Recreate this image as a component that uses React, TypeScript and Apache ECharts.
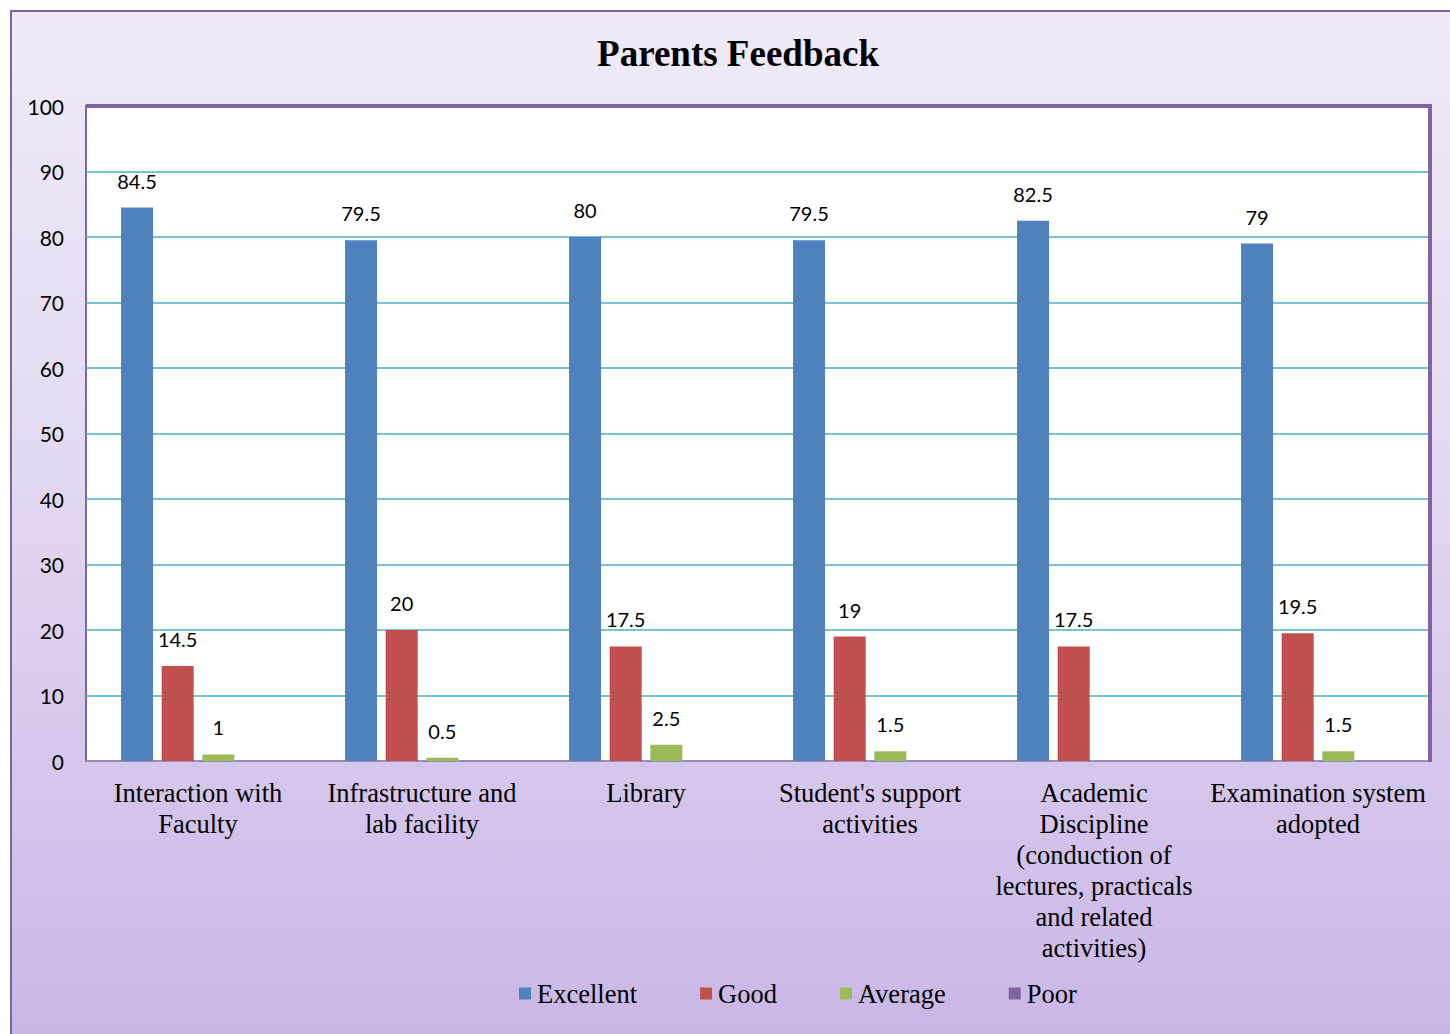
import React, { useEffect, useRef } from "react";
import * as echarts from "echarts";

const categories = [
  "Interaction with\nFaculty",
  "Infrastructure and\nlab facility",
  "Library",
  "Student's support\nactivities",
  "Academic\nDiscipline\n(conduction of\nlectures, practicals\nand related\nactivities)",
  "Examination system\nadopted",
];
const excellent = [84.5, 79.5, 80, 79.5, 82.5, 79];
const good = [14.5, 20, 17.5, 19, 17.5, 19.5];
const average: (number | null)[] = [1, 0.5, 2.5, 1.5, null, 1.5];
const poor: (number | null)[] = [null, null, null, null, null, null];
const seriesNames = ["Excellent", "Good", "Average", "Poor"];
const colors = ["#4F81BD", "#C0504D", "#9BBB59", "#8064A2"];

export default function App() {
  const ref = useRef<HTMLDivElement>(null);
  useEffect(() => {
    const chart = echarts.init(ref.current!, null, { renderer: "svg" });
    const label = {
      show: true,
      position: "top",
      distance: 17,
      color: "#000",
      fontFamily: "Lato",
      fontSize: 20,
    };
    const data = [excellent, good, average, poor];
    chart.setOption({
      animation: false,
      title: {
        text: "Parents Feedback",
        left: 733,
        top: 30,
        textAlign: "center",
        textStyle: {
          fontFamily: "Liberation Serif",
          fontWeight: "bold",
          fontSize: 37,
          color: "#000",
        },
      },
      legend: {
        left: 514,
        top: 975,
        itemWidth: 12,
        itemHeight: 12,
        itemGap: 63,
        icon: "rect",
        textStyle: {
          fontFamily: "Liberation Serif",
          fontSize: 26.5,
          color: "#000",
          padding: [0, 0, 0, 1],
        },
        data: seriesNames,
      },
      grid: {
        left: 86,
        top: 106,
        right: 20,
        bottom: 273,
        show: true,
        backgroundColor: "#fff",
        borderColor: "#8064A2",
        borderWidth: 2,
      },
      xAxis: {
        type: "category",
        data: categories,
        axisTick: { show: false },
        axisLine: { show: true, lineStyle: { color: "#9d8bb5", width: 2 } },
        axisLabel: {
          interval: 0,
          margin: 16,
          color: "#000",
          fontFamily: "Liberation Serif",
          fontSize: 26.5,
          lineHeight: 31,
        },
      },
      yAxis: {
        type: "value",
        min: 0,
        max: 100,
        interval: 10,
        axisLine: { show: false },
        axisTick: { show: false },
        axisLabel: {
          margin: 22,
          color: "#000",
          fontFamily: "Lato",
          fontSize: 21,
        },
        splitLine: { lineStyle: { color: "#4BACC6", width: 1.5 } },
      },
      graphic: [
        {
          type: "line",
          shape: { x1: 86, y1: 106, x2: 1430, y2: 106 },
          style: { stroke: "#8064A2", lineWidth: 4 },
          z: 10,
        },
        {
          type: "line",
          shape: { x1: 1430, y1: 104, x2: 1430, y2: 762 },
          style: { stroke: "#8064A2", lineWidth: 4 },
          z: 10,
        },
      ],
      series: seriesNames.map((name, i) => ({
        name,
        type: "bar",
        data: data[i],
        barWidth: 32,
        barGap: "27%",
        itemStyle: { color: colors[i] },
        label,
      })),
    });
    return () => chart.dispose();
  }, []);
  return (
    <div style={{ position: "absolute", left: 0, top: 0, width: 1450, height: 1034, overflow: "hidden" }}>
      <div
        style={{
          position: "absolute",
          left: 10,
          top: 10,
          width: 1450,
          height: 1034,
          boxSizing: "border-box",
          border: "2px solid #8064A2",
          background: "linear-gradient(to bottom, #F0EAF8 0%, #E3D8F2 45%, #C9B6E6 100%)",
        }}
      />
      <div ref={ref} style={{ position: "absolute", left: 0, top: 0, width: 1450, height: 1034 }} />
    </div>
  );
}
